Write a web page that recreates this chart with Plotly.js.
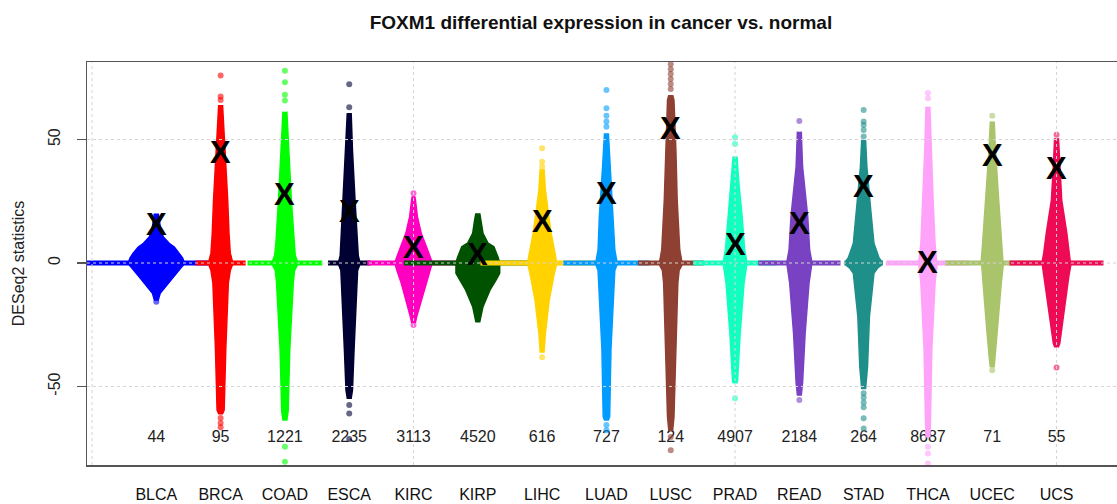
<!DOCTYPE html>
<html>
<head>
<meta charset="utf-8">
<script src="https://cdn.plot.ly/plotly-3.0.1.min.js"></script>
<style>html,body{margin:0;padding:0;background:#fff;}#chart{width:1117px;height:504px;}</style>
</head>
<body>
<div id="chart"></div>
<script>
// ---- data ----
const categories = ['BLCA','BRCA','COAD','ESCA','KIRC','KIRP','LIHC','LUAD','LUSC','PRAD','READ','STAD','THCA','UCEC','UCS'];
const colors = ['#0000FF','#FF0000','#00FF00','#000033','#FF00C0','#005200','#FFD200','#009CFF','#8E4032','#12FFC0','#7842C2','#1F8F8A','#FFA2FA','#A9C46A','#EE0A55'];
const foxm1Stat = [15.4, 44.9, 27.6, 20.8, 6.2, 3.6, 16.7, 28.2, 54.3, 7.3, 15.8, 30.9, 0.3, 43.4, 38.4];
const sampleCounts = ['44','95','1221','2235','3113','4520','616','727','124','4907','2184','264','8687','71','55'];
const countLabelY = -71;
// half-width (in category units) of the band of genes with statistic ~ 0
const zeroBandHalfWidth = [1.12, 0.39, 0.58, 0.33, 0.72, 1.15, 0.96, 0.67, 0.51, 0.65, 0.64, 0.30, 0.65, 0.73, 0.73];
// swarm silhouettes: [statistic, half-width in category units], top to bottom
const swarmProfiles = [
  [[20,0.03],[16,0.05],[13,0.07],[10.5,0.11],[8,0.2],[6.5,0.28],[4,0.36],[2,0.41],[0.5,0.43],[-0.5,0.43],[-2,0.38],[-5.5,0.27],[-9.6,0.14],[-12.3,0.06],[-15,0.03]],
  [[64,0.03],[55,0.05],[45.8,0.07],[25.5,0.11],[12,0.13],[4,0.15],[1,0.18],[-1,0.18],[-3,0.15],[-8.2,0.12],[-35,0.08],[-59.6,0.055],[-61,0.03]],
  [[61.3,0.03],[55,0.045],[45.8,0.06],[25.5,0.1],[8,0.14],[3,0.16],[1,0.19],[-1,0.19],[-3,0.15],[-8,0.13],[-35,0.075],[-60,0.05],[-63.6,0.03]],
  [[60.7,0.03],[45.8,0.05],[25.5,0.09],[8,0.13],[3,0.14],[1,0.16],[-1,0.16],[-3,0.13],[-8.2,0.12],[-35,0.075],[-51.5,0.05],[-54.8,0.03]],
  [[27,0.02],[25.5,0.03],[18.8,0.06],[12,0.12],[6.6,0.2],[2.6,0.26],[1,0.28],[-1,0.28],[-2.8,0.26],[-8.2,0.19],[-15,0.12],[-21.7,0.05],[-24,0.03]],
  [[20.1,0.03],[17.4,0.05],[12,0.08],[8,0.16],[6.6,0.25],[2.6,0.31],[1,0.33],[-1,0.34],[-4.2,0.34],[-7,0.28],[-10.9,0.19],[-17.7,0.08],[-23.8,0.03]],
  [[38,0.03],[29.6,0.05],[21.5,0.09],[12,0.14],[5.3,0.19],[1,0.22],[-1,0.22],[-4.1,0.19],[-15,0.11],[-28.4,0.05],[-36,0.03]],
  [[52.5,0.03],[39,0.06],[18.8,0.11],[5.3,0.13],[1,0.16],[-1,0.16],[-3,0.13],[-8.2,0.12],[-35,0.07],[-62.3,0.05],[-63.6,0.03]],
  [[68,0.03],[66,0.05],[45.8,0.08],[25.5,0.1],[5.3,0.14],[1,0.17],[-1,0.17],[-3,0.13],[-8.2,0.11],[-35,0.08],[-62.3,0.05],[-67.7,0.03]],
  [[43.1,0.03],[32.3,0.06],[18.8,0.11],[5.3,0.15],[1,0.18],[-1,0.18],[-8.2,0.14],[-28.4,0.08],[-47.4,0.04],[-48.5,0.03]],
  [[53.2,0.03],[39,0.05],[18.8,0.13],[5.3,0.16],[1,0.19],[-1,0.19],[-8.2,0.15],[-28.4,0.09],[-48.6,0.05],[-53.5,0.03]],
  [[49.8,0.03],[39,0.05],[21.5,0.11],[8,0.16],[2,0.24],[1,0.27],[-1,0.27],[-2,0.22],[-4.2,0.16],[-21.7,0.09],[-42,0.06],[-50.8,0.03]],
  [[63.3,0.03],[45.8,0.05],[25.5,0.08],[8,0.11],[1,0.14],[-1,0.14],[-8.2,0.11],[-35,0.06],[-62.3,0.04],[-70.4,0.03]],
  [[57.3,0.03],[45.8,0.05],[25.5,0.1],[8,0.15],[1,0.17],[-1,0.17],[-8.2,0.14],[-28.5,0.08],[-40,0.04],[-42,0.03]],
  [[50.5,0.03],[39,0.05],[25.5,0.08],[12,0.16],[3.9,0.2],[1,0.22],[-1,0.22],[-5.5,0.19],[-21.7,0.11],[-32.5,0.05],[-33.9,0.03]]
];
// isolated extreme genes
const outlierStats = [
  [-15.7],
  [75.9, 67.4, 66, -62.8, -64.8, -66.5],
  [77.9, 73.2, 68.1, 65.8, -74.4, -80.5],
  [72.4, 63.1, -57.5, -60.9, -71.3],
  [28.2, -25.1],
  [],
  [46.5, 41, 39, -38.2],
  [70.1, 62.7, 59.6, 57.3, 55.2, -65.6, -67.7],
  [80.5, 78.5, 76.5, 74.5, 72.5, 70.5, -70.5, -75.8],
  [50.9, 48.2, -54.8],
  [57.5, -55.5],
  [62, 57.3, 55.9, 53.9, 51.2, -52.7, -54.5, -56.5, -58.4, -62.9, -67],
  [68.8, 66.7, -74.4, -77.1, -81.2],
  [59.6, -43.4],
  [51.9, -42.3]
];
const yTicks = [-50, 0, 50];
const xGrid = [0, 5, 10, 15];

// ---- traces ----
const FONT = 'Liberation Sans, Arial, Helvetica, sans-serif';
const positions = categories.map((_, i) => i + 1);
const traces = [];

traces.push({
  type: 'scatter', mode: 'text', x: positions, y: positions.map(() => countLabelY),
  text: sampleCounts, textposition: 'middle center',
  textfont: {family: FONT, size: 16, color: '#222'}, hoverinfo: 'skip', showlegend: false
});

categories.forEach((cat, i) => {
  const c = positions[i];
  const col = colors[i];
  const bw = zeroBandHalfWidth[i];
  traces.push({
    type: 'scatter', mode: 'lines', x: [c - bw, c + bw], y: [0, 0],
    line: {color: col, width: 5}, hoverinfo: 'skip', showlegend: false
  });
  const prof = swarmProfiles[i];
  const xs = prof.map(p => c + p[1]).concat(prof.slice().reverse().map(p => c - p[1]));
  const ys = prof.map(p => p[0]).concat(prof.slice().reverse().map(p => p[0]));
  traces.push({
    type: 'scatter', mode: 'lines', x: xs, y: ys, fill: 'toself', fillcolor: col,
    line: {color: col, width: 1.5}, name: cat, hoverinfo: 'name', showlegend: false
  });
  const od = outlierStats[i];
  if (od.length) {
    traces.push({
      type: 'scatter', mode: 'markers', x: od.map(() => c), y: od,
      marker: {color: col, size: 6, opacity: 0.6, line: {width: 0}},
      hoverinfo: 'y', showlegend: false
    });
  }
});

const annotations = positions.map((p, i) => ({
  x: p, y: foxm1Stat[i], xref: 'x', yref: 'y', text: 'X', showarrow: false,
  xanchor: 'center', yanchor: 'middle', yshift: 0,
  font: {family: FONT, size: 31, color: '#000', weight: 'bold'}
}));

const shapes = [];
xGrid.forEach(v => shapes.push({type: 'line', xref: 'x', yref: 'paper', x0: v, x1: v, y0: 0, y1: 1,
  layer: 'above', line: {color: '#d4d4d4', width: 1, dash: 'dot'}}));
yTicks.forEach(v => shapes.push({type: 'line', xref: 'paper', yref: 'y', x0: 0, x1: 1, y0: v, y1: v,
  layer: 'above', line: {color: '#d4d4d4', width: 1, dash: 'dot'}}));

const layout = {
  width: 1117, height: 504,
  margin: {l: 87, r: 0, t: 62, b: 39, pad: 0},
  paper_bgcolor: '#fff', plot_bgcolor: '#fff',
  font: {family: FONT, size: 16, color: '#222'},
  title: {text: 'FOXM1 differential expression in cancer vs. normal', font: {family: FONT, size: 19, weight: 'bold', color: '#111'},
    x: 0.538, xref: 'container', xanchor: 'center', y: 0.955, yref: 'container', yanchor: 'middle'},
  xaxis: {range: [-0.078, 15.94], tickvals: positions, ticktext: categories, ticks: '', showgrid: false,
    zeroline: false, showline: true, linecolor: '#555', linewidth: 1.5, mirror: true,
    tickfont: {family: FONT, size: 16, color: '#111'}, ticklabelstandoff: 14},
  yaxis: {range: [-81.8, 81.4], tickvals: yTicks, ticktext: yTicks.map(String), tickangle: -90,
    ticks: 'outside', ticklen: 9, tickwidth: 1.2, tickcolor: '#555', showgrid: false, zeroline: false,
    showline: true, linecolor: '#555', linewidth: 1.5, ticklabelstandoff: 10,
    tickfont: {family: FONT, size: 16, color: '#222'},
    title: {text: 'DESeq2 statistics', font: {family: FONT, size: 16, color: '#222'}, standoff: 17}},
  shapes: shapes,
  annotations: annotations,
  showlegend: false
};

Plotly.newPlot('chart', traces, layout, {displayModeBar: false, staticPlot: true});
</script>
</body>
</html>
